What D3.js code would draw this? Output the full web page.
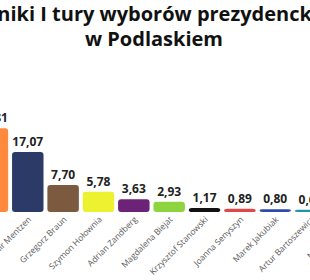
<!DOCTYPE html>
<html><head><meta charset="utf-8">
<script src="https://cdn.jsdelivr.net/npm/d3@7"></script>
<style>html,body{margin:0;padding:0;background:#fff;overflow:hidden}svg{display:block}</style>
</head><body>
<script>
const titleLines = ["Wyniki I tury wyborów prezydenckich", "w Podlaskiem"];
const candidates = ["Karol Nawrocki","Rafał Trzaskowski","Sławomir Mentzen","Grzegorz Braun","Szymon Hołownia","Adrian Zandberg","Magdalena Biejat","Krzysztof Stanowski","Joanna Senyszyn","Marek Jakubiak","Artur Bartoszewicz","Maciej Maciak","Marek Woch"];
const values = [37.33, 23.81, 17.07, 7.70, 5.78, 3.63, 2.93, 1.17, 0.89, 0.80, 0.61, 0.20, 0.10];
const colors = ["#1d3f8c","#ff8a3d","#2b3a67","#7b5a3f","#edf230","#6b2277","#8ed43f","#111111","#e0474c","#2c4aae","#1c97a3","#999999","#666666"];

const W = 310, H = 280;
const svg = d3.select("body").append("svg").attr("width", W).attr("height", H);

const x = d3.scaleBand().domain(candidates).range([-60.6, 398.95]).paddingInner(0.11).paddingOuter(0.055);
const y = d3.scaleLinear().domain([0, 40]).range([212, 71.4]);
const fmt = v => v.toFixed(2).replace(".", ",");

svg.append("g").selectAll("text").data(titleLines).join("text")
  .attr("x", 154).attr("y", (d, i) => 21 + i * 25)
  .attr("text-anchor", "middle")
  .style("font-family", "'Open Sans', sans-serif").style("font-weight", 700).style("font-size", "20px")
  .attr("fill", "#111").text(d => d);

const data = candidates.map((c, i) => ({c, v: values[i], col: colors[i]}));

svg.append("g").selectAll("rect").data(data).join("rect")
  .attr("x", d => x(d.c)).attr("width", x.bandwidth())
  .attr("y", d => y(d.v)).attr("height", d => y(0) - y(d.v))
  .attr("rx", 3).attr("fill", d => d.col);

svg.append("g").selectAll("text").data(data).join("text")
  .attr("x", d => x(d.c) + x.bandwidth() / 2).attr("y", d => y(d.v) - 6)
  .attr("text-anchor", "middle")
  .style("font-family", "'Open Sans', sans-serif").style("font-weight", 700).style("font-size", "12px")
  .attr("fill", "#222").text(d => fmt(d.v));

svg.append("g").selectAll("text").data(data).join("text")
  .attr("transform", d => `translate(${x(d.c) + x.bandwidth() / 2 + 4},${y(0) + 8}) rotate(-45)`)
  .attr("text-anchor", "end")
  .style("font-family", "'Open Sans', sans-serif").style("font-size", "8.5px")
  .attr("fill", "#5a5a5a").text(d => d.c);
</script>
</body></html>
